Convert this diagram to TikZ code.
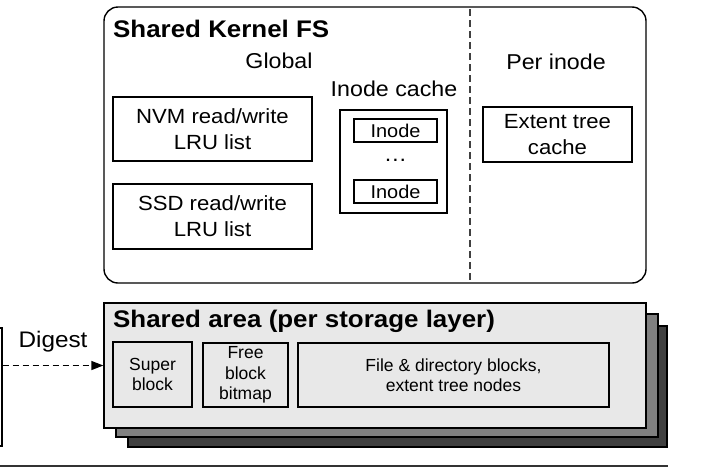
\documentclass[tikz,border=0pt]{standalone}
\usepackage{fontspec}
\setmainfont{Liberation Sans}
\newfontfamily\widefont[FakeStretch=1.08]{Liberation Sans}
\usetikzlibrary{arrows.meta}
\definecolor{lightfill}{HTML}{E8E8E8}
\definecolor{midfill}{HTML}{808080}
\definecolor{darkfill}{HTML}{404040}
\tikzset{
  boxed/.style={draw=black, line width=1.3pt, inner sep=0pt, align=center},
  titletext/.style={inner sep=0pt, anchor=base west, font=\widefont\fontsize{24}{28}\selectfont\bfseries},
  labeltext/.style={inner sep=0pt, font=\widefont\fontsize{21.5}{26}\selectfont},
  bigbox/.style={boxed, font=\widefont\fontsize{20.5}{26}\selectfont},
  inodebox/.style={boxed, font=\widefont\fontsize{18.5}{22}\selectfont},
  smallbox/.style={boxed, fill=lightfill, font=\fontsize{17.5}{20.5}\selectfont},
  layer/.style={draw=black, line width=1.3pt, inner sep=0pt},
}
\begin{document}
\begin{tikzpicture}[x=1pt,y=-1pt]
\useasboundingbox (0,0) rectangle (708,472);
% ---------- Shared Kernel FS ----------
\node[draw=black, line width=1.4pt, rounded corners=14pt, inner sep=0pt,
      minimum width=542pt, minimum height=276pt] (kfs) at (375,145) {};
\node[titletext] (ktitle) at (113,37) {Shared Kernel FS};
\node[labeltext] (global) at (279,61) {Global};
\node[labeltext] (icachelbl) at (394,89) {Inode cache};
\node[labeltext] (perinode) at (556,62) {Per inode};
\coordinate (dtop) at (470,9);
\coordinate (dbot) at (470,281);
\draw[line width=1.4pt, draw=black!75, dash pattern=on 7pt off 4pt] (dtop) -- (dbot);
\node[bigbox, minimum width=199pt, minimum height=64pt] (nvm) at (212.5,129) {NVM read/write\\LRU list};
\node[bigbox, minimum width=199pt, minimum height=65pt] (ssd) at (212.5,216.5) {SSD read/write\\LRU list};
\node[boxed, minimum width=107pt, minimum height=103pt] (icache) at (393.5,161.5) {};
\node[inodebox, minimum width=83pt, minimum height=23pt] (ino1) at (395.5,130.5) {Inode};
\node[labeltext] (dots) at (395.5,160) {\dots};
\node[inodebox, minimum width=83pt, minimum height=23pt] (ino2) at (395.5,191.5) {Inode};
\node[bigbox, minimum width=149pt, minimum height=55pt] (ext) at (557.5,134.5) {Extent tree\\cache};
% ---------- Shared area stack ----------
\node[layer, fill=darkfill, minimum width=539pt, minimum height=121pt] (l3) at (397.5,386.5) {};
\node[layer, fill=midfill, minimum width=542pt, minimum height=123pt] (l2) at (387,375.5) {};
\node[layer, fill=lightfill, minimum width=542pt, minimum height=125pt] (l1) at (375,365.5) {};
\node[titletext] (stitle) at (113,327) {Shared area (per storage layer)};
\node[smallbox, minimum width=79pt, minimum height=65pt] (super) at (152.5,374.5) {Super\\block};
\node[smallbox, minimum width=85pt, minimum height=64pt] (free) at (245.5,375) {Free\\block\\bitmap};
\node[smallbox, minimum width=311pt, minimum height=64pt] (file) at (453.5,375) {File \& directory blocks,\\extent tree nodes};
% ---------- left (cut-off) box and Digest arrow ----------
\node[layer, minimum width=40pt, minimum height=118pt] (left) at (-18,387) {};
\node[labeltext, font=\widefont\fontsize{22.5}{26}\selectfont] (digest) at (53,342) {Digest};
\draw[line width=1.3pt, dash pattern=on 6pt off 4pt, -{Triangle[length=12pt,width=9pt]}]
  (left.east |- l1.west) -- (l1.west);
% ---------- bottom rule ----------
\coordinate (rulel) at (0,466);
\coordinate (ruler) at (668,466);
\draw[line width=1.8pt, draw=black!80] (rulel) -- (ruler);
\end{tikzpicture}
\end{document}
